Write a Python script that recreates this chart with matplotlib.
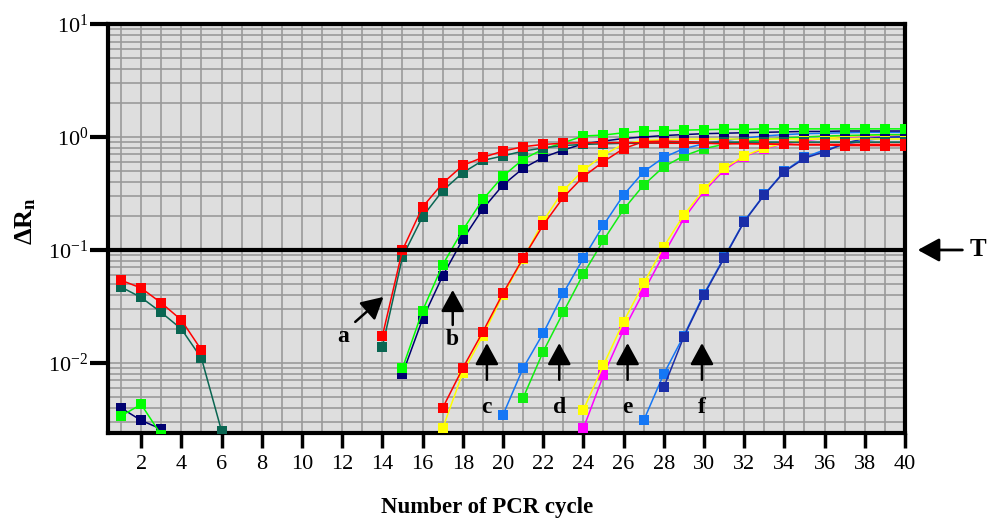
import numpy as np
import matplotlib
matplotlib.use("Agg")
import matplotlib.pyplot as plt
from matplotlib.ticker import FixedLocator, MultipleLocator, LogLocator, NullFormatter

plt.rcParams['font.family'] = ['Liberation Serif', 'DejaVu Serif']
plt.rcParams['mathtext.fontset'] = 'custom'
plt.rcParams['mathtext.rm'] = 'Liberation Serif'
plt.rcParams['mathtext.it'] = 'Liberation Serif:italic'
plt.rcParams['mathtext.bf'] = 'Liberation Serif:bold'

nan = np.nan
cycles = np.arange(1, 41)

# delta Rn per cycle (1..40), nan where the value is not shown
a_red = [0.054, 0.046, 0.034, 0.024, 0.013] + [nan] * 8 + [
    0.0173, 0.10, 0.24, 0.39, 0.56, 0.66, 0.75, 0.82, 0.86, 0.88, 0.89, 0.89, 0.89, 0.89,
    0.88, 0.88, 0.88, 0.87, 0.87, 0.87, 0.86, 0.86, 0.86, 0.86, 0.86, 0.86, 0.86]
a_teal = [0.047, 0.038, 0.028, 0.020, 0.011, 0.0025] + [nan] * 7 + [
    0.0139, 0.087, 0.197, 0.335, 0.483, 0.62, 0.68, 0.75, 0.80, 0.84, 0.86, 0.87, 0.88, 0.88,
    0.89, 0.89, 0.89, 0.90, 0.90, 0.90, 0.90, 0.90, 0.90, 0.90, 0.90, 0.90, 0.90]
b_green = [0.0034, 0.0043, 0.0023] + [nan] * 11 + [
    0.0090, 0.029, 0.074, 0.150, 0.28, 0.45, 0.635, 0.78, 0.89, 1.02, 1.04, 1.09, 1.13,
    1.14, 1.15, 1.16, 1.17, 1.17, 1.18, 1.18, 1.18, 1.18, 1.18, 1.18, 1.18, 1.18]
b_navy = [0.0040, 0.0031, 0.0026] + [nan] * 11 + [
    0.0080, 0.0245, 0.059, 0.124, 0.231, 0.376, 0.528, 0.66, 0.767, 0.87, 0.92, 0.97, 1.0,
    1.03, 1.05, 1.07, 1.08, 1.09, 1.10, 1.11, 1.12, 1.12, 1.13, 1.13, 1.13, 1.13]
c_red = [nan] * 16 + [
    0.0040, 0.0090, 0.0189, 0.0414, 0.0845, 0.166, 0.292, 0.446, 0.605, 0.79, 0.91, 0.92,
    0.91, 0.90, 0.89, 0.88, 0.87, 0.86, 0.85, 0.85, 0.84, 0.84, 0.84, 0.84]
c_yellow = [nan] * 16 + [
    0.00264, 0.0082, 0.0175, 0.040, 0.083, 0.18, 0.335, 0.51, 0.69, 0.87, 0.93, 0.95,
    0.96, 0.96, 0.96, 0.96, 0.96, 0.96, 0.96, 0.96, 0.96, 0.96, 0.96, 0.96]
d_blue = [nan] * 19 + [
    0.00347, 0.0090, 0.0183, 0.0414, 0.0845, 0.166, 0.307, 0.493, 0.66, 0.79, 0.87, 0.93,
    0.98, 1.02, 1.05, 1.07, 1.08, 1.09, 1.10, 1.10, 1.10]
d_green = [nan] * 20 + [
    0.0049, 0.0126, 0.0281, 0.0614, 0.122, 0.229, 0.376, 0.546, 0.68, 0.79, 0.86, 0.91,
    0.95, 0.98, 1.0, 1.02, 1.03, 1.04, 1.05, 1.05]
e_yellow = [nan] * 23 + [
    0.00384, 0.0096, 0.0232, 0.0507, 0.107, 0.204, 0.344, 0.528, 0.68, 0.80, 0.88, 0.94,
    0.98, 1.01, 1.03, 1.04, 1.05]
e_magenta = [nan] * 23 + [
    0.00264, 0.0078, 0.0196, 0.0428, 0.092, 0.19, 0.33, 0.51, 0.67, 0.79, 0.87, 0.93,
    0.97, 1.0, 1.02, 1.03, 1.04]
f_azure = [nan] * 26 + [
    0.0031, 0.0080, 0.0175, 0.041, 0.086, 0.18, 0.31, 0.50, 0.66, 0.77, 0.86, 0.93, 0.98, 1.02]
f_dark = [nan] * 27 + [
    0.0061, 0.0171, 0.040, 0.0845, 0.178, 0.307, 0.493, 0.648, 0.741, 0.88, 0.97, 1.0, 1.0]

# drawing order: last one on top
series = [
    (f_azure, '#1577f5'), (f_dark, '#1b2ea8'),
    (e_magenta, '#ff00ff'), (e_yellow, '#ffff00'),
    (d_green, '#11ee11'), (d_blue, '#1577f5'),
    (c_yellow, '#ffff00'), (c_red, '#ff0000'),
    (b_navy, '#000070'), (b_green, '#00ff00'),
    (a_teal, '#0a6652'), (a_red, '#ff0000'),
]

threshold = 0.1
xticks = list(range(2, 41, 2))
yticks = [1e-2, 1e-1, 1e0, 1e1]
ytick_labels = ['$10^{-2}$', '$10^{-1}$', '$10^{0}$', '$10^{1}$']

# curve labels: (letter, text x, text y, arrow tail, arrow head)
labels = [
    ('a', 12.05, 0.0170, (12.65, 0.0231), (14.05, 0.0384)),
    ('b', 17.5, 0.0160, (17.5, 0.0217), (17.5, 0.0443)),
    ('c', 19.2, 0.0040, (19.2, 0.0071), (19.2, 0.0150)),
    ('d', 22.8, 0.0040, (22.8, 0.0071), (22.8, 0.0150)),
    ('e', 26.2, 0.0040, (26.2, 0.0071), (26.2, 0.0150)),
    ('f', 29.9, 0.0040, (29.9, 0.0071), (29.9, 0.0150)),
]

fig = plt.figure(figsize=(9.9, 5.26), dpi=100)
ax = fig.add_axes([108 / 990, 93 / 526, 797 / 990, 409 / 526])
ax.set_facecolor('#dedede')

for vals, col in series:
    ax.plot(cycles, vals, color=col, lw=1.1, marker='s', markersize=7.5,
            markeredgewidth=0, zorder=3)

ax.axhline(threshold, color='black', lw=3, zorder=4)

ax.set_yscale('log')
ax.set_xlim(0.35, 40)
ax.set_ylim(0.0024, 10)

ax.xaxis.set_major_locator(FixedLocator(xticks))
ax.xaxis.set_minor_locator(MultipleLocator(1))
ax.set_xticklabels([str(t) for t in xticks])
ax.yaxis.set_major_locator(FixedLocator(yticks))
ax.set_yticklabels(ytick_labels)
ax.yaxis.set_minor_locator(LogLocator(base=10, subs=np.arange(2, 10)))
ax.yaxis.set_minor_formatter(NullFormatter())

ax.grid(which='both', color='#9a9a9a', lw=1.2, zorder=0)
ax.set_axisbelow(True)
ax.tick_params(axis='x', which='major', direction='out', length=11, width=2.5,
               labelsize=16, pad=5)
ax.tick_params(axis='y', which='major', direction='out', length=13, width=3,
               labelsize=16, pad=1)
ax.tick_params(which='minor', length=0)
for sp in ax.spines.values():
    sp.set_linewidth(3)

arrow_style = '-|>,head_length=0.55,head_width=0.3'
for letter, tx, ty, tail, head in labels:
    ax.text(tx, ty, letter, fontsize=17, fontweight='bold', ha='center', va='center',
            zorder=5)
    ax.annotate('', xy=head, xytext=tail,
                arrowprops=dict(arrowstyle=arrow_style, color='black', lw=1.8,
                                mutation_scale=24, shrinkA=0, shrinkB=0), zorder=5)

# threshold marker outside the plot
ax.annotate('', xy=(1.016, threshold), xytext=(1.072, threshold),
            xycoords=('axes fraction', 'data'), textcoords=('axes fraction', 'data'),
            arrowprops=dict(arrowstyle=arrow_style, color='black', lw=2,
                            mutation_scale=24, shrinkA=0, shrinkB=0),
            annotation_clip=False)
ax.text(1.092, threshold, 'T', transform=ax.get_yaxis_transform(), fontsize=18,
        fontweight='bold', ha='center', va='center')

fig.text(487 / 990, 1 - 508 / 526, 'Number of PCR cycle', fontsize=16.5,
         fontweight='bold', ha='center', va='center')
fig.text(26 / 990, 1 - 221 / 526, r'$\mathbf{\Delta R_n}$', fontsize=19,
         rotation=90, ha='center', va='center')

fig.savefig('out.png', dpi=100)
